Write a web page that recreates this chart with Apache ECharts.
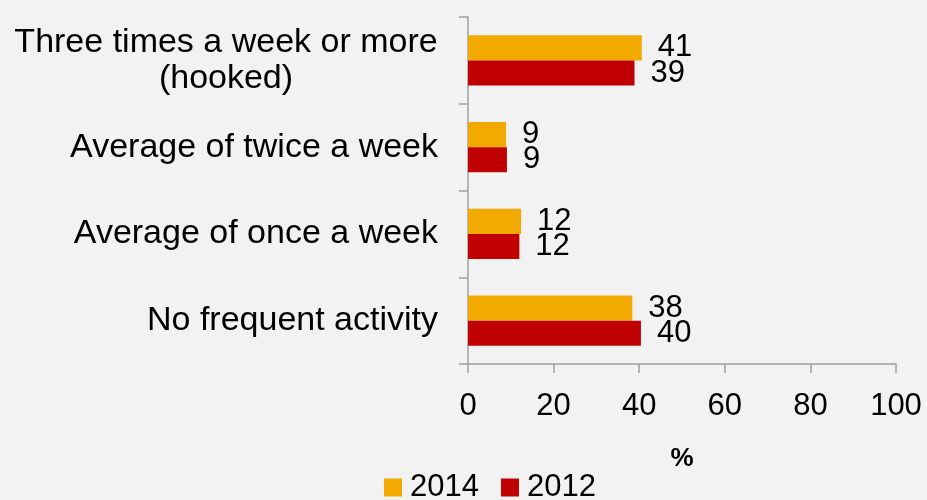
<!DOCTYPE html>
<html>
<head>
<meta charset="utf-8">
<script src="https://cdn.jsdelivr.net/npm/echarts@6/dist/echarts.min.js"></script>
<style>
html,body{margin:0;padding:0;background:#F2F2F2;}
#chart{width:927px;height:500px;}
</style>
</head>
<body>
<div id="chart"></div>
<script>
const categories = ["Three times a week or more\n(hooked)", "Average of twice a week", "Average of once a week", "No frequent activity"];
const series2014 = [40.6, 8.9, 12.4, 38.4];
const series2012 = [38.9, 9.1, 12.0, 40.4];
const xTicks = [0, 20, 40, 60, 80, 100];
const seriesNames = ["2014", "2012"];

const FONT = "Liberation Sans";
const chart = echarts.init(document.getElementById('chart'), null, {renderer: 'canvas'});

const labelCfg = {
  show: true,
  position: 'right',
  distance: 16,
  color: '#000',
  fontFamily: FONT,
  fontSize: 31,
  formatter: p => Math.round(p.value)
};

chart.setOption({
  backgroundColor: '#F2F2F2',
  animation: false,
  textStyle: {fontFamily: FONT},
  grid: {left: 468, right: 31, top: 17, bottom: 136, containLabel: false},
  legend: {
    data: seriesNames,
    left: 384,
    top: 472,
    padding: 0,
    itemWidth: 18,
    itemHeight: 18,
    itemGap: 22,
    icon: 'rect',
    textStyle: {fontFamily: FONT, fontSize: 31, color: '#000', padding: [0,0,0,3]}
  },
  xAxis: {
    type: 'value',
    min: 0, max: 100, interval: 20,
    name: '%',
    nameLocation: 'middle',
    nameGap: 82,
    nameTextStyle: {fontFamily: FONT, fontSize: 26, fontWeight: 'bold', color: '#000'},
    axisLine: {show: true, lineStyle: {color: '#A0A0A0', width: 1.5}},
    axisTick: {show: true, length: 9, lineStyle: {color: '#A0A0A0', width: 1.5}},
    axisLabel: {color: '#000', fontFamily: FONT, fontSize: 31, margin: 27,
      formatter: v => xTicks.includes(v) ? String(v) : ''},
    splitLine: {show: false}
  },
  yAxis: {
    type: 'category',
    data: categories,
    inverse: true,
    axisLine: {show: true, lineStyle: {color: '#A0A0A0', width: 1.5}},
    axisTick: {show: true, length: 9, lineStyle: {color: '#A0A0A0', width: 1.5}},
    axisLabel: {
      color: '#000', fontFamily: FONT, fontSize: 34, margin: 30, lineHeight: 36,
      formatter: v => v.includes('\n') ? v.split('\n').map(s => '{c|' + s + '}').join('\n') : v,
      rich: {c: {width: 424, align: 'center', fontFamily: FONT, fontSize: 34, lineHeight: 36, color: '#000'}}
    }
  },
  series: [
    {name: seriesNames[0], type: 'bar', data: series2014, barGap: '0%', barCategoryGap: '42%',
      itemStyle: {color: '#F2A900'}, label: labelCfg},
    {name: seriesNames[1], type: 'bar', data: series2012, barGap: '0%', barCategoryGap: '42%',
      itemStyle: {color: '#C00000'}, label: labelCfg}
  ]
});
</script>
</body>
</html>
